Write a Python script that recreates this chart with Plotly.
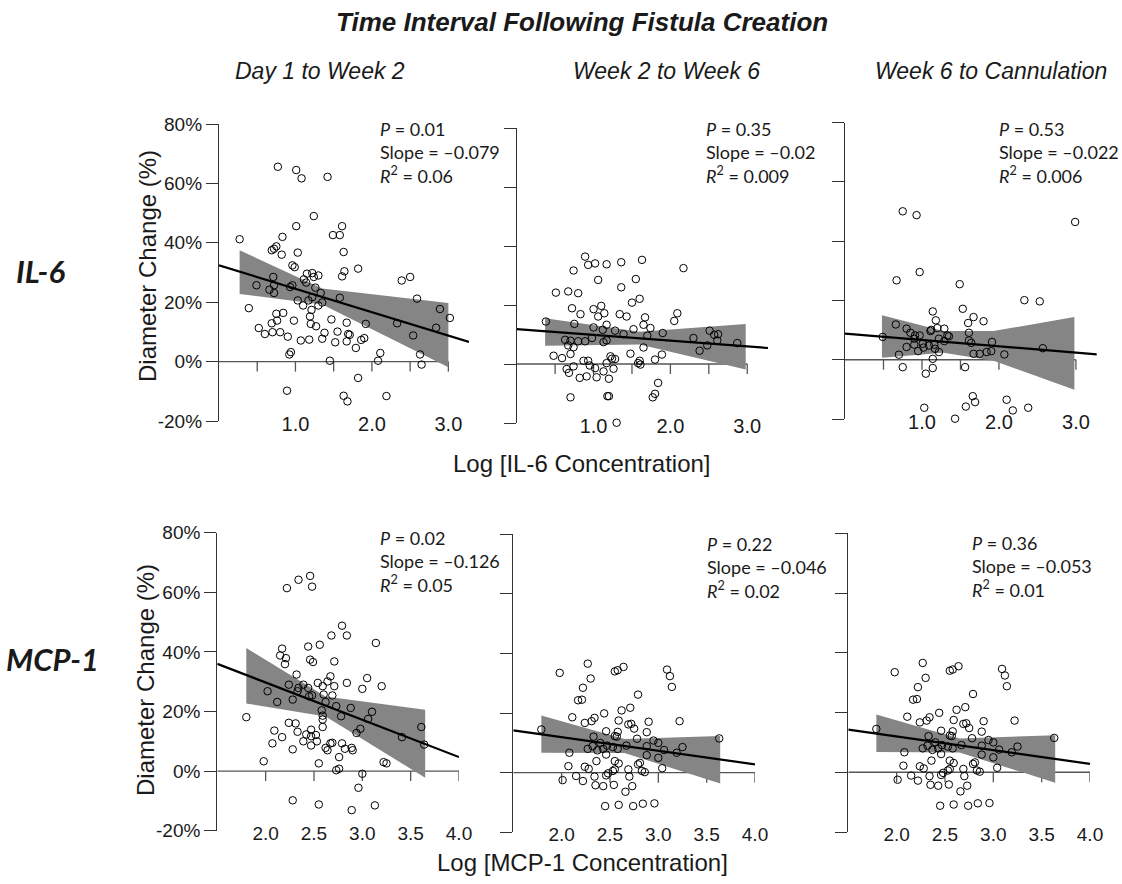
import plotly.graph_objects as go

W, H = 1122, 884

# ---------------- data ----------------
# Row 1: IL-6, Day 1 to Week 2
il6_a_x = [0.90,0.77,1.01,1.08,1.42,1.24,1.01,1.61,1.49,1.58,
           0.27,0.83,0.75,0.69,0.72,1.03,0.82,1.63,0.96,0.99,
           1.82,1.64,1.61,1.15,1.22,1.30,1.11,1.14,1.24,0.71,
           2.39,2.50,0.49,0.72,0.66,0.93,0.96,1.26,1.33,0.72,
           1.58,1.22,1.17,1.03,1.35,1.10,1.30,1.21,2.59,0.39,
           2.89,3.02,0.75,0.84,1.19,1.47,0.98,0.69,0.76,1.67,
           1.92,1.20,1.27,2.33,0.52,2.84,0.60,0.70,0.80,1.38,
           1.55,1.69,1.71,2.54,0.90,1.35,1.07,1.18,1.52,1.67,
           1.86,1.90,1.79,2.63,2.11,0.94,0.92,2.08,1.45,2.65,
           1.82,0.89,1.63,2.19,1.68]
il6_a_y = [82.5,65.6,64.5,61.7,62.2,49.0,45.6,45.6,42.6,42.6,
           41.2,42.0,38.8,37.5,38.0,36.7,36.0,36.9,32.4,31.8,
           31.3,30.4,28.7,29.6,29.8,29.0,27.7,26.6,28.5,28.5,
           27.3,28.5,25.7,25.7,24.2,25.1,25.7,24.9,23.1,23.1,
           21.5,21.7,20.6,20.6,19.9,18.9,18.9,17.4,21.2,18.0,
           17.7,14.7,16.1,16.4,15.2,14.2,13.8,12.9,13.8,13.1,
           12.7,12.7,11.9,12.9,11.3,11.4,9.3,9.9,9.9,9.7,
           10.1,9.3,9.0,8.8,8.4,7.7,7.1,7.4,6.5,6.8,
           7.3,7.9,4.6,2.4,2.9,3.2,2.4,0.3,0.3,-1.0,
           -5.5,-9.8,-11.5,-11.6,-13.4]

# Row 1: IL-6, Week 2 to Week 6
il6_b_x = [0.89,0.93,1.02,1.17,1.36,1.63,2.17,0.74,1.06,1.55,
           1.36,0.51,0.67,0.80,1.50,1.60,0.72,1.00,1.10,1.14,
           1.06,0.83,1.34,1.43,2.09,2.05,1.67,0.38,0.75,1.17,
           1.00,1.12,1.28,1.52,1.65,1.74,1.39,1.70,1.90,2.51,
           2.57,2.62,2.30,2.61,0.63,0.70,0.80,0.89,0.98,1.17,
           1.13,2.87,0.67,0.74,2.48,2.38,1.65,0.48,0.59,0.70,
           0.87,0.93,0.95,1.22,1.24,1.28,1.17,1.48,1.58,1.61,
           1.60,1.80,1.89,0.65,0.74,0.68,1.02,1.13,1.26,0.82,
           0.91,1.04,1.20,1.84,0.70,1.18,1.20,1.80,1.77,1.30]
il6_b_y = [36.4,33.6,34.1,33.8,34.5,35.3,32.5,31.7,28.5,28.8,
           26.0,24.2,24.6,24.0,20.8,22.1,18.9,18.6,19.7,17.2,
           16.1,16.9,16.9,16.1,17.2,14.6,15.8,14.4,13.6,13.3,
           12.4,11.6,11.3,11.8,13.3,12.2,10.1,9.6,10.5,11.3,
           9.9,10.1,8.8,8.0,8.2,7.9,7.7,7.7,8.8,8.0,
           7.4,7.1,6.3,5.7,6.3,4.5,5.6,2.8,2.0,3.4,
           1.1,1.1,-0.5,2.6,1.8,1.7,0.3,3.5,0.3,-0.2,
           1.1,1.5,3.2,-1.7,-0.8,-3.0,-1.4,-2.5,-1.6,-4.7,
           -4.2,-4.5,-5.0,-6.4,-11.3,-10.9,-10.9,-10.1,-11.3,-19.9]

# Row 1: IL-6, Week 6 to Cannulation
il6_c_x = [0.75,0.93,2.99,0.97,0.67,1.49,2.33,2.53,1.14,1.53,
           1.18,1.67,1.80,1.60,0.66,0.80,0.85,1.12,1.20,1.29,
           1.61,0.91,0.97,0.90,1.33,1.35,1.22,1.29,0.49,1.01,
           0.80,1.09,1.02,0.95,1.17,1.22,1.61,1.64,1.91,1.67,
           1.75,1.84,1.90,2.07,2.57,0.70,1.14,0.75,1.14,1.05,
           1.56,1.03,1.57,1.66,1.69,2.10,2.18,2.38,1.43,
           1.11,0.90,1.16]
il6_c_y = [50.1,48.8,46.5,29.6,26.8,25.5,20.1,19.7,16.3,17.2,
           13.3,14.4,13.0,12.4,11.9,10.5,9.1,10.1,10.7,10.5,
           9.1,8.2,8.2,7.1,8.2,7.9,7.1,6.3,7.7,5.4,
           4.3,4.8,4.1,2.9,3.7,2.6,6.5,5.7,6.0,2.0,
           2.0,2.6,2.9,1.8,3.9,1.7,0.3,-2.5,-2.8,-4.7,
           -2.5,-16.2,-15.8,-12.3,-14.3,-13.5,-17.1,-16.2,-19.9,
           9.7,5.1,5.1]

# Row 2: MCP-1, Day 1 to Week 2
mcp_a_x = [2.46,2.34,2.48,2.22,2.79,2.68,2.84,3.14,2.44,2.56,
           2.17,2.15,2.21,2.20,2.46,2.49,2.71,2.32,2.67,3.05,
           2.64,2.84,2.54,3.20,2.24,2.39,2.34,2.44,2.59,2.71,
           3.00,2.02,2.33,2.45,2.48,2.60,2.69,2.28,2.12,2.62,
           2.73,2.88,2.58,3.10,2.59,2.59,2.78,3.06,1.80,2.24,
           2.31,3.61,2.09,2.33,2.47,2.59,2.98,2.94,2.42,2.47,
           2.52,3.41,2.17,2.07,2.39,2.47,2.53,2.67,2.69,2.79,
           3.64,2.28,2.62,2.64,2.82,2.89,2.90,2.76,1.98,2.55,
           3.22,3.25,2.73,2.76,3.00,2.96,2.28,2.55,2.89,3.13]
mcp_a_y = [65.5,64.2,61.9,61.4,48.8,45.5,45.5,43.0,41.8,42.4,
           41.1,38.8,37.9,35.9,37.4,36.6,36.8,32.4,31.8,31.2,
           30.1,29.6,29.6,28.5,29.0,29.0,27.9,27.9,28.5,28.5,
           27.6,26.8,26.8,25.1,25.4,25.7,25.4,24.0,23.2,23.2,
           21.8,21.2,20.4,19.9,18.6,17.3,18.4,17.5,18.1,16.2,
           16.0,14.8,13.6,13.2,13.9,14.8,14.2,12.8,12.3,11.7,
           12.1,11.4,11.4,9.3,10.0,8.6,10.0,9.3,9.5,9.3,
           8.9,7.3,7.8,7.0,7.5,7.8,7.0,4.7,3.3,2.6,
           3.0,2.6,0.3,0.8,-0.9,-5.6,-9.8,-11.2,-13.1,-11.5]

# Row 2: MCP-1, Week 2 to Week 6 (the Week 6 to Cannulation panel shows the same cloud)
mcp_b_x = [2.27,1.98,2.55,2.58,2.64,3.09,3.12,2.30,3.14,2.22,
           2.17,2.21,2.79,2.62,2.71,2.44,2.11,2.24,2.34,2.31,
           2.59,2.69,2.72,2.75,2.90,3.22,1.79,2.46,2.58,2.88,
           3.63,2.33,2.55,2.57,2.78,2.95,3.00,2.40,2.27,2.32,
           2.47,2.53,2.67,2.37,2.43,2.58,2.88,3.06,3.25,3.19,
           2.08,2.46,2.88,3.00,2.36,2.55,2.59,2.79,2.81,2.07,
           2.24,2.28,2.69,2.83,2.86,3.04,2.53,2.55,2.48,2.46,
           2.01,2.15,2.22,2.34,2.35,2.43,2.54,2.70,2.73,2.66,
           2.45,2.59,2.74,2.84,2.96,2.69]
mcp_b_y = [36.6,33.5,34.0,34.4,35.5,34.6,32.4,31.6,28.8,28.5,
           24.3,24.5,26.2,20.9,21.8,19.9,18.6,16.7,18.4,17.3,
           17.5,16.2,16.4,14.8,17.1,17.3,14.5,13.9,13.7,13.6,
           11.5,12.1,12.3,12.1,11.4,10.8,10.0,10.0,8.0,8.9,
           9.1,8.6,9.1,7.5,8.0,8.0,8.9,7.6,8.6,6.7,
           6.7,6.1,5.9,5.0,3.9,3.9,3.1,2.8,3.3,2.2,
           2.0,1.3,1.1,0.6,0.2,1.5,0.6,1.1,-0.2,-0.9,
           -2.5,-1.1,-2.8,-1.3,-4.2,-4.5,-4.1,-1.3,-4.5,-6.4,
           -11.2,-10.8,-11.2,-10.4,-10.3,-20.1]
mcp_c_x = mcp_b_x
mcp_c_y = mcp_b_y

# regression line end points (x, y%)
fit_x = [[0, 3.27], [0, 3.28], [0, 3.28], [1.5, 4.0], [1.5, 4.0], [1.5, 4.0]]
fit_y = [[32.4, 6.6], [11.8, 5.4], [8.8, 1.8], [36.0, 4.7], [14.2, 2.8], [14.3, 2.8]]

# confidence band vertices
band_x = [[0.27, 1.35, 3.00], [0.37, 1.60, 2.98], [0.48, 1.28, 1.93, 2.98],
          [1.80, 2.62, 3.65], [1.79, 2.65, 3.64], [1.79, 2.65, 3.64]]
band_hi = [[37.5, 24.6, 19.7], [15.5, 10.9, 13.6], [15.0, 9.7, 9.7, 14.4],
           [41.3, 25.0, 20.6], [19.2, 11.3, 12.3], [19.3, 11.3, 12.4]]
band_lo = [[22.8, 19.2, -1.9], [6.2, 6.6, -1.9], [0.7, 2.4, -0.3, -10.1],
           [22.7, 18.3, -2.2], [6.7, 6.6, -3.6], [6.8, 6.6, -3.5]]

p_text = ["0.01", "0.35", "0.53", "0.02", "0.22", "0.36"]
slope_text = ["\u20130.079", "\u20130.02", "\u20130.022", "\u20130.126", "\u20130.046", "\u20130.053"]
r2_text = ["0.06", "0.009", "0.006", "0.05", "0.02", "0.01"]

col_titles = ["Day 1 to Week 2", "Week 2 to Week 6", "Week 6 to Cannulation"]
row_titles = ["IL-6", "MCP-1"]
x_titles = ["Log [IL-6 Concentration]", "Log [MCP-1 Concentration]"]
y_title = "Diameter Change (%)"
main_title = "Time Interval Following Fistula Creation"

y_ticks = [-20, 0, 20, 40, 60, 80]
y_ticktext = ["-20%", "0%", "20%", "40%", "60%", "80%"]
top_axis_ticks = [0.5, 1.0, 1.5, 2.0, 2.5, 3.0]
top_label_ticks = [1.0, 2.0, 3.0]
bot_axis_ticks = [2.0, 2.5, 3.0, 3.5, 4.0]
bot_label_ticks = [2.0, 2.5, 3.0, 3.5, 4.0]
top_xrange = [0, 3.27]
bot_xrange = [1.5, 4.0]

points_x = [il6_a_x, il6_b_x, il6_c_x, mcp_a_x, mcp_b_x, mcp_c_x]
points_y = [il6_a_y, il6_b_y, il6_c_y, mcp_a_y, mcp_b_y, mcp_c_y]

# ---------------- layout geometry (pixels) ----------------
boxes = [(219, 469, 124, 421), (516.7, 768, 128, 423), (845, 1096.7, 122.7, 419),
         (217.3, 459, 532.7, 830.7), (513.3, 755, 534.3, 832.3), (848.3, 1090, 533.3, 832)]
stats_pos = [(378, 128), (704, 128), (997, 128), (378, 537), (705, 543), (970, 542)]


def fx(px):
    return px / W


def fy(py):
    return 1 - py / H


AX = "#333333"
TXT = "#1a1a1a"
SANS = "Liberation Sans, Arial, sans-serif"
CAL = "Lato, Carlito, sans-serif"

fig = go.Figure()
layout = dict(width=W, height=H, margin=dict(l=0, r=0, t=0, b=0, pad=0, autoexpand=False),
              autosize=False, paper_bgcolor="white", plot_bgcolor="white", showlegend=False)
shapes = []
annotations = []


def label(px, py, text, font, angle=0, xa="center", ya="middle"):
    annotations.append(dict(xref="paper", yref="paper", x=fx(px), y=fy(py), showarrow=False,
                            xanchor=xa, yanchor=ya, textangle=angle, text=text, font=font))


for i in range(6):
    n = i + 1
    xs = "x" if n == 1 else f"x{n}"
    ys = "y" if n == 1 else f"y{n}"
    top = i < 3
    l, r, t, b = boxes[i]
    xr = top_xrange if top else bot_xrange
    axis_ticks = top_axis_ticks if top else bot_axis_ticks
    label_ticks = top_label_ticks if top else bot_label_ticks

    # confidence band
    bx = band_x[i] + band_x[i][::-1]
    by = band_hi[i] + band_lo[i][::-1]
    fig.add_trace(go.Scatter(x=bx, y=by, xaxis=xs, yaxis=ys, mode="lines",
                             fill="toself", fillcolor="#858585",
                             line=dict(width=0, color="#858585"), hoverinfo="skip"))
    # regression line
    fig.add_trace(go.Scatter(x=fit_x[i], y=fit_y[i], xaxis=xs, yaxis=ys, mode="lines",
                             line=dict(color="black", width=2.2)))
    # points
    fig.add_trace(go.Scatter(x=points_x[i], y=points_y[i], xaxis=xs, yaxis=ys,
                             mode="markers", cliponaxis=False,
                             marker=dict(symbol="circle-open", size=7.5, color="black",
                                         line=dict(width=1, color="black"))))

    layout["xaxis" if n == 1 else f"xaxis{n}"] = dict(
        domain=[fx(l), fx(r)], range=xr, anchor="free",
        position=fy(b - 11), automargin=False,
        showline=False, ticks="", showgrid=False, zeroline=False,
        tickvals=label_ticks, ticktext=[f"{v:.1f}" for v in label_ticks],
        tickfont=dict(family=SANS, size=20 if top else 19, color=TXT),
        fixedrange=True)
    layout["yaxis" if n == 1 else f"yaxis{n}"] = dict(
        domain=[fy(b), fy(t)], range=[-20, 80], anchor=xs, automargin=False,
        showline=True, linecolor=AX, linewidth=1.3,
        ticks="outside", ticklen=12, tickcolor=AX, tickwidth=1.3,
        tickvals=y_ticks, ticktext=y_ticktext, showticklabels=(n in (1, 4)),
        tickfont=dict(family=SANS, size=19, color=TXT),
        showgrid=False, zeroline=False, fixedrange=True)

    # x axis drawn along 0 %
    shapes.append(dict(type="line", xref=xs, yref=ys, x0=xr[0], x1=axis_ticks[-1], y0=0, y1=0,
                       line=dict(color="#555555", width=1.3), layer="below"))
    for tv in axis_ticks:
        shapes.append(dict(type="line", xref=xs, yref=ys, x0=tv, x1=tv,
                           ysizemode="pixel", yanchor=0, y0=0, y1=-10,
                           line=dict(color="#555555", width=1.3), layer="below"))

    sx, sy = stats_pos[i]
    label(sx, sy - 12,
          (f"<i>P</i> = {p_text[i]}<br>Slope = {slope_text[i]}<br>"
           f"<i>R</i><sup>2</sup> = {r2_text[i]}"),
          dict(family=CAL, size=18, color=TXT), xa="left", ya="top")
    annotations[-1]["align"] = "left"

# titles
label(582, 22, f"<b><i>{main_title}</i></b>", dict(family=SANS, size=26, color=TXT))
for cx, ct in zip([320, 666, 991], col_titles):
    label(cx, 71, f"<i>{ct}</i>", dict(family=SANS, size=23, color=TXT))
for cy, cx, rt in zip([271, 659], [40, 52], row_titles):
    label(cx, cy, f"<b><i>{rt}</i></b>", dict(family=CAL, size=31, color=TXT))
for cy, ypx in zip([266, 680], [147, 145]):
    label(ypx, cy, y_title, dict(family=SANS, size=24, color=TXT), angle=-90)
for cy, xt in zip([463, 862], x_titles):
    label(582, cy, xt, dict(family=SANS, size=24, color=TXT))

layout["shapes"] = shapes
layout["annotations"] = annotations
fig.update_layout(**layout)
fig.write_html("out.html", config={"displayModeBar": False, "responsive": False},
               post_script="document.body.style.margin='0';")
